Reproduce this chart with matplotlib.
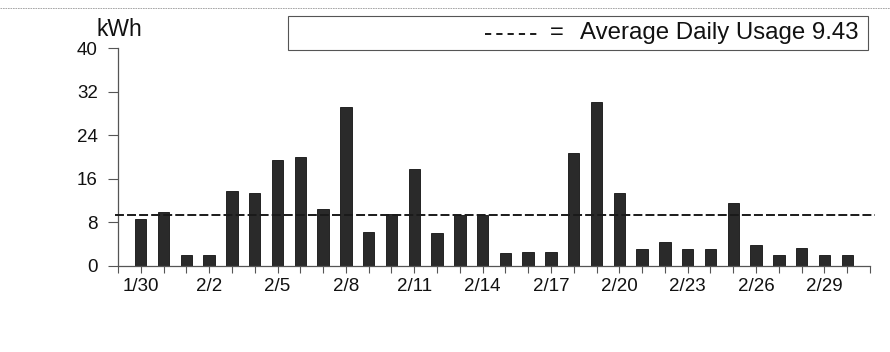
import matplotlib
matplotlib.use("Agg")
import matplotlib.pyplot as plt
from matplotlib.lines import Line2D
from matplotlib.patches import Rectangle

# Daily electricity use, 1/30 through 3/1
dates = ["1/30", "1/31"] + [f"2/{d}" for d in range(1, 30)] + ["3/1"]
usage = [8.6, 10.0, 2.0, 2.0, 13.7, 13.4, 19.5, 20.0, 10.4, 29.3,
         6.3, 9.6, 17.9, 6.1, 9.3, 9.3, 2.3, 2.5, 2.5, 20.8,
         30.2, 13.4, 3.1, 4.5, 3.1, 3.1, 11.5, 3.8, 2.0, 3.3,
         2.1, 2.1]
avg_usage = 9.43
y_ticks = [0, 8, 16, 24, 32, 40]
label_every = 3

plt.rcParams['font.family'] = ['Liberation Sans', 'DejaVu Sans']

W, H = 890, 352
fig = plt.figure(figsize=(W / 100, H / 100), dpi=100)
fig.patch.set_facecolor("white")

ax = fig.add_axes([118 / W, 1 - 266 / H, (870 - 118) / W, (266 - 48.3) / H])

xs = list(range(len(dates)))
ax.bar(xs, usage, width=0.5, color="#2a2a2a", edgecolor="#111111", linewidth=0.6, zorder=2)

ax.set_xlim(-1, len(dates))
ax.set_ylim(0, 40)

# average line
ax.axhline(avg_usage, xmin=-0.004, xmax=1.007, color="#1a1a1a", lw=1.4,
           linestyle=(0, (4.6, 1.6)), clip_on=False, zorder=3)

# axes styling
for side in ("top", "right"):
    ax.spines[side].set_visible(False)
for side in ("left", "bottom"):
    ax.spines[side].set_color("#555555")
    ax.spines[side].set_linewidth(0.9)

tick_pos = list(range(-1, len(dates) + 1))
tick_labels = []
for p in tick_pos:
    if 0 <= p < len(dates) and p % label_every == 0:
        tick_labels.append(dates[p])
    else:
        tick_labels.append("")
ax.set_xticks(tick_pos)
ax.set_xticklabels(tick_labels)
ax.set_yticks(y_ticks)
ax.set_yticklabels([str(v) for v in y_ticks])

ax.tick_params(axis="x", direction="out", length=5, width=0.8, color="#555555",
               pad=3.5, labelsize=13.5, labelcolor="#111111")
ax.tick_params(axis="y", direction="out", length=7, width=0.8, color="#555555",
               pad=7.5, labelsize=13.5, labelcolor="#111111")

# unit label
fig.text(119 / W, 1 - 29 / H, "kWh", ha="center", va="center",
         fontsize=16.5, color="#111111")

# legend box
fig.add_artist(Rectangle((288 / W, 1 - 49.5 / H), (868 - 288) / W, (49.5 - 16) / H,
                         transform=fig.transFigure, fill=False,
                         edgecolor="#555555", linewidth=0.8))
fig.add_artist(Line2D([485 / W, 541 / W], [1 - 33.5 / H] * 2,
                      transform=fig.transFigure, color="#1a1a1a", lw=1.4,
                      linestyle=(0, (3.2, 2.6))))
fig.text(557 / W, 1 - 33 / H, "=", ha="center", va="center",
         fontsize=17, color="#111111")
fig.text(580 / W, 1 - 33 / H, f"Average Daily Usage {avg_usage:.2f}",
         ha="left", va="center", fontsize=17.3, color="#111111")

# faint rule along the top edge
fig.add_artist(Line2D([0, 1], [1 - 8.3 / H] * 2, transform=fig.transFigure,
                      color="#9a9a9a", lw=0.6, linestyle=(0, (2, 1))))

fig.savefig("out.png", dpi=100)
